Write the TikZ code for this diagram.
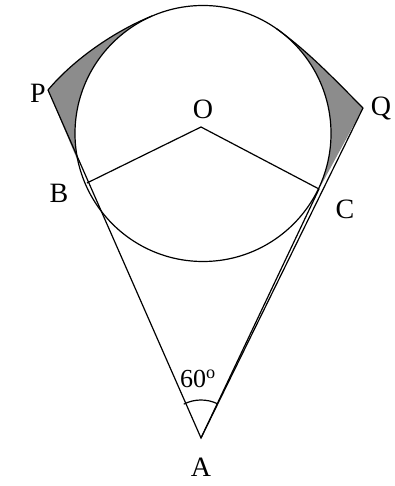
\documentclass[tikz,border=0pt]{standalone}
\usepackage{fontspec}
\setmainfont{Liberation Serif}
\begin{document}
\begin{tikzpicture}[x=1pt,y=1pt,
  lbl/.style={font=\fontsize{28}{28}\selectfont, inner sep=0pt},
  edge/.style={line width=1.2pt, black},
  shade/.style={fill=black!45}]
\useasboundingbox (0,0) rectangle (395,486);
% points (pixel x, 486 - pixel y)
\coordinate (Ctr) at (203,352.5);
\coordinate (O) at (201,359);
\coordinate (A) at (201,48);
\coordinate (P) at (48,396);
\coordinate (Q) at (363,378);
\coordinate (B) at (87,303);
\coordinate (C) at (319,297);
\coordinate (ML) at (152,470);
\coordinate (MR) at (276.4,457.4);
% shaded regions
\fill[shade] (P) -- (B) -- (Ctr) -- (ML) .. controls (115,455) and (74,427) .. (P) -- cycle;
\fill[shade] (Q) -- (C) -- (Ctr) -- (MR) .. controls (309,434) and (338,403) .. (Q) -- cycle;
\fill[white] (Ctr) circle[radius=128];
% circle and lines
\draw[edge] (Ctr) circle[radius=128];
\draw[edge] (ML) .. controls (115,455) and (74,427) .. (P);
\draw[edge] (MR) .. controls (309,434) and (338,403) .. (Q);
\draw[edge] (P) -- (A) -- (Q);
\draw[edge] (A) -- (C);
\draw[edge] (B) -- (O) -- (C);
\draw[edge] (A) ++(117:38) arc[start angle=117, end angle=64, radius=38];
% labels
\node[lbl] (lP) at (38,393) {P};
\node[lbl] (lO) at (203,377) {O};
\node[lbl] (lQ) at (381,377) {Q};
\node[lbl] (lB) at (59,293) {B};
\node[lbl] (lC) at (345,277) {C};
\node[lbl] (lA) at (201,19) {A};
\node[lbl, font=\fontsize{26}{26}\selectfont] (l60) at (198,107) {60$^{\mathrm{o}}$};
\end{tikzpicture}
\end{document}
